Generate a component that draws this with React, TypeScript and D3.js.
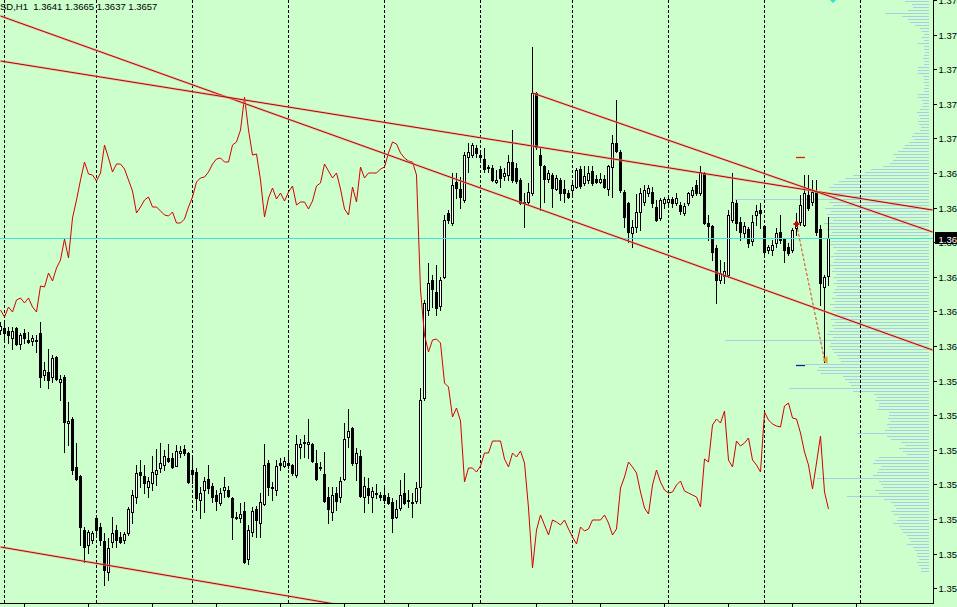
import React from "react";
import * as d3 from "d3";

const W = 957;
const H = 607;
const PLOT_RIGHT = 933;
const PLOT_BOTTOM = 603;

const headerText = "SD,H1  1.3641 1.3665 1.3637 1.3657";

const opens = [
  1.3585, 1.3586, 1.35845, 1.3581, 1.3586, 1.3578, 1.35835, 1.358, 1.35795, 1.358,
  1.35835, 1.35625, 1.3564, 1.35615, 1.35715, 1.3559, 1.35615, 1.35385, 1.35405, 1.35165,
  1.3512, 1.3485, 1.34775, 1.348, 1.3491, 1.34865, 1.34795, 1.3464, 1.3479, 1.3485,
  1.34815, 1.348, 1.34835, 1.3494, 1.35015, 1.3514, 1.3512, 1.35065, 1.35085, 1.3513,
  1.3516, 1.35175, 1.3521, 1.3521, 1.3517, 1.35235, 1.35255, 1.35235, 1.3515, 1.3514,
  1.35, 1.3505, 1.35105, 1.3507, 1.35025, 1.34985, 1.3505, 1.3505, 1.3501, 1.34915,
  1.3491, 1.34945, 1.34705, 1.3484, 1.34955, 1.34885, 1.3498, 1.35185, 1.35065, 1.3505,
  1.35185, 1.3517, 1.35185, 1.35175, 1.35125, 1.35265, 1.35285, 1.3528, 1.3528, 1.35185,
  1.35165, 1.3513, 1.35015, 1.3494, 1.35035, 1.35015, 1.35105, 1.35315, 1.3536, 1.35185,
  1.3522, 1.35015, 1.3506, 1.35015, 1.35035, 1.35025, 1.35025, 1.35015, 1.3499, 1.34915,
  1.3496, 1.35035, 1.35, 1.34985, 1.34995, 1.35065, 1.3551, 1.3595, 1.361, 1.3604,
  1.3597, 1.36115, 1.36435, 1.36385, 1.3659, 1.36555, 1.365, 1.36715, 1.36725, 1.3676,
  1.36725, 1.36705, 1.36665, 1.3666, 1.3659, 1.36655, 1.3662, 1.36625, 1.3669, 1.3666,
  1.366, 1.3649, 1.3649, 1.36535, 1.37035, 1.36725, 1.3667, 1.36605, 1.36625, 1.36555,
  1.366, 1.36555, 1.36535, 1.3655, 1.36565, 1.36655, 1.36585, 1.366, 1.36645, 1.36605,
  1.3659, 1.36605, 1.36555, 1.36665, 1.36785, 1.3674, 1.3654, 1.36485, 1.36335, 1.36365,
  1.3644, 1.3649, 1.36535, 1.3654, 1.36465, 1.3641, 1.36485, 1.3649, 1.36505, 1.36485,
  1.36475, 1.36435, 1.36485, 1.36525, 1.36575, 1.36535, 1.36635, 1.36385, 1.3637, 1.3626,
  1.361, 1.3612, 1.36125, 1.364, 1.36485, 1.3639, 1.36335, 1.36355, 1.36295, 1.36425,
  1.3645, 1.3637, 1.3625, 1.3625, 1.36285, 1.3634, 1.36305, 1.36265, 1.3625, 1.3636,
  1.3639, 1.36375, 1.36525, 1.3649, 1.3654, 1.36355, 1.36065, 1.3612
];

const highs = [
  1.3589, 1.35885, 1.35865, 1.35865, 1.35865, 1.35835, 1.35855, 1.3584, 1.35825, 1.35825,
  1.3589, 1.3569, 1.35755, 1.35725, 1.3572, 1.35625, 1.35625, 1.3549, 1.35415, 1.35285,
  1.35125, 1.34865, 1.3485, 1.34845, 1.34915, 1.34885, 1.34835, 1.3481, 1.34915, 1.34875,
  1.3484, 1.3484, 1.34965, 1.3505, 1.35175, 1.352, 1.35175, 1.35115, 1.3522, 1.35255,
  1.35285, 1.3525, 1.3528, 1.35235, 1.35275, 1.3527, 1.35275, 1.3524, 1.35215, 1.3516,
  1.35065, 1.35115, 1.35175, 1.35085, 1.3505, 1.3506, 1.35115, 1.3507, 1.35015, 1.3494,
  1.34985, 1.3499, 1.34875, 1.34965, 1.3497, 1.35035, 1.3528, 1.352, 1.3509, 1.352,
  1.3521, 1.35215, 1.35235, 1.3518, 1.35325, 1.35305, 1.35325, 1.35405, 1.35285, 1.3525,
  1.3519, 1.3524, 1.35065, 1.35065, 1.35065, 1.35115, 1.35385, 1.35455, 1.35365, 1.3526,
  1.3525, 1.35115, 1.3511, 1.35065, 1.3508, 1.3504, 1.3506, 1.35035, 1.3501, 1.35,
  1.351, 1.35135, 1.3505, 1.35035, 1.3509, 1.3556, 1.36, 1.36185, 1.36125, 1.36175,
  1.36115, 1.36425, 1.3645, 1.36635, 1.36635, 1.36615, 1.3674, 1.36785, 1.36785, 1.36775,
  1.3674, 1.3676, 1.36675, 1.36675, 1.3665, 1.3667, 1.3666, 1.36725, 1.3685, 1.36685,
  1.3661, 1.36535, 1.36585, 1.37265, 1.3704, 1.3676, 1.36675, 1.3665, 1.36635, 1.36625,
  1.3661, 1.366, 1.3655, 1.366, 1.3666, 1.3667, 1.3667, 1.3667, 1.3667, 1.36625,
  1.36635, 1.36625, 1.36675, 1.36825, 1.37, 1.3675, 1.3655, 1.3649, 1.364, 1.3653,
  1.3656, 1.36575, 1.36575, 1.36565, 1.365, 1.3651, 1.36515, 1.3652, 1.36515, 1.36535,
  1.3649, 1.36485, 1.3654, 1.36565, 1.366, 1.3667, 1.3664, 1.36425, 1.36375, 1.36275,
  1.362, 1.3619, 1.3645, 1.36635, 1.365, 1.36415, 1.3639, 1.36365, 1.36425, 1.36475,
  1.36485, 1.36375, 1.36275, 1.363, 1.3636, 1.36425, 1.3631, 1.36285, 1.3636, 1.36435,
  1.36525, 1.36625, 1.36625, 1.366, 1.366, 1.36375, 1.36125, 1.36415
];

const lows = [
  1.3583, 1.358, 1.35785, 1.35755, 1.35775, 1.35755, 1.35785, 1.35785, 1.35775, 1.3574,
  1.35565, 1.356, 1.3556, 1.3559, 1.356, 1.355, 1.3524, 1.35275, 1.3513, 1.351,
  1.34775, 1.3469, 1.34735, 1.34785, 1.34815, 1.34775, 1.34575, 1.346, 1.34765, 1.34765,
  1.34785, 1.34785, 1.34825, 1.34885, 1.34985, 1.35065, 1.35035, 1.35015, 1.3505, 1.35075,
  1.3514, 1.3515, 1.3519, 1.3516, 1.3517, 1.35215, 1.35225, 1.35085, 1.35085, 1.3495,
  1.3491, 1.3494, 1.35035, 1.3499, 1.3495, 1.34975, 1.35015, 1.35015, 1.34805, 1.34905,
  1.3489, 1.34685, 1.3468, 1.3482, 1.34815, 1.34815, 1.34975, 1.35025, 1.35, 1.35025,
  1.3515, 1.35165, 1.3516, 1.35125, 1.35115, 1.3521, 1.35215, 1.3521, 1.3519, 1.351,
  1.3515, 1.3499, 1.34885, 1.349, 1.3495, 1.3499, 1.351, 1.35265, 1.35175, 1.351,
  1.35015, 1.3494, 1.34985, 1.3494, 1.3501, 1.35, 1.34985, 1.3498, 1.3484, 1.3491,
  1.3495, 1.3498, 1.34965, 1.34915, 1.34985, 1.34985, 1.355, 1.35925, 1.35965, 1.35925,
  1.3595, 1.3611, 1.36385, 1.36375, 1.3651, 1.3646, 1.3649, 1.3664, 1.36715, 1.36715,
  1.367, 1.3664, 1.3664, 1.36595, 1.36585, 1.36565, 1.366, 1.366, 1.3659, 1.36585,
  1.3648, 1.36365, 1.3648, 1.36525, 1.36755, 1.3645, 1.3649, 1.3659, 1.36465, 1.3655,
  1.365, 1.3649, 1.3651, 1.36525, 1.3656, 1.3656, 1.36575, 1.36585, 1.36575, 1.36585,
  1.36585, 1.3656, 1.36525, 1.36515, 1.3674, 1.3654, 1.36365, 1.3629, 1.36265, 1.3634,
  1.3635, 1.36475, 1.3652, 1.36465, 1.36395, 1.364, 1.3646, 1.36465, 1.36465, 1.36475,
  1.3643, 1.36425, 1.36475, 1.36515, 1.36525, 1.36525, 1.3638, 1.363, 1.362, 1.35985,
  1.36085, 1.36085, 1.36115, 1.3639, 1.3635, 1.363, 1.36315, 1.36265, 1.36275, 1.36375,
  1.3636, 1.36215, 1.36235, 1.36225, 1.36265, 1.36285, 1.3619, 1.36225, 1.3624, 1.36325,
  1.36375, 1.3637, 1.3645, 1.36475, 1.36325, 1.35975, 1.3569, 1.36075
];

const closes = [
  1.3587, 1.35835, 1.35825, 1.35845, 1.3578, 1.35825, 1.3581, 1.3579, 1.3581, 1.35795,
  1.35615, 1.3565, 1.356, 1.3571, 1.35605, 1.35605, 1.3539, 1.35395, 1.3515, 1.35105,
  1.34865, 1.34765, 1.3484, 1.34835, 1.3485, 1.348, 1.3465, 1.3476, 1.34835, 1.348,
  1.3479, 1.3483, 1.34955, 1.35025, 1.35135, 1.35125, 1.35085, 1.35095, 1.3514, 1.3515,
  1.35185, 1.3522, 1.35195, 1.35165, 1.35245, 1.35245, 1.35235, 1.3509, 1.3513, 1.3501,
  1.35035, 1.35095, 1.3506, 1.35015, 1.34995, 1.35035, 1.35065, 1.3502, 1.34915, 1.3491,
  1.3493, 1.3469, 1.3485, 1.34945, 1.349, 1.3499, 1.35175, 1.35065, 1.3506, 1.3517,
  1.35175, 1.35195, 1.35175, 1.35135, 1.3528, 1.3528, 1.3529, 1.3529, 1.35195, 1.35105,
  1.3516, 1.34995, 1.34955, 1.35025, 1.34995, 1.35095, 1.35305, 1.35345, 1.35185, 1.35235,
  1.3502, 1.3507, 1.35025, 1.35045, 1.3503, 1.35015, 1.35, 1.34985, 1.3491, 1.34955,
  1.35025, 1.34985, 1.34995, 1.3499, 1.3506, 1.355, 1.35985, 1.36085, 1.36055, 1.3596,
  1.361, 1.364, 1.364, 1.36575, 1.3656, 1.36515, 1.36725, 1.3674, 1.36775, 1.36735,
  1.36715, 1.36655, 1.3666, 1.366, 1.366, 1.3661, 1.36635, 1.3669, 1.366, 1.36595,
  1.36485, 1.36485, 1.3654, 1.37035, 1.36765, 1.36675, 1.36605, 1.36635, 1.3656, 1.3661,
  1.36535, 1.36535, 1.36515, 1.36575, 1.3665, 1.3657, 1.3662, 1.36635, 1.36585, 1.3659,
  1.36605, 1.36565, 1.3667, 1.36785, 1.36745, 1.3655, 1.36415, 1.3634, 1.36365, 1.3644,
  1.36535, 1.3655, 1.3656, 1.36485, 1.364, 1.365, 1.36505, 1.36505, 1.36485, 1.3651,
  1.36445, 1.3647, 1.36535, 1.3655, 1.36535, 1.3664, 1.36385, 1.3637, 1.3624, 1.361,
  1.36135, 1.36145, 1.36425, 1.3649, 1.36385, 1.3634, 1.3637, 1.36285, 1.3639, 1.36445,
  1.36435, 1.3624, 1.36265, 1.36275, 1.36335, 1.363, 1.3625, 1.36235, 1.3635, 1.3639,
  1.36475, 1.36535, 1.3646, 1.3654, 1.3634, 1.36085, 1.36115, 1.3631
];

const overlay = [
  1.3595, 1.35915, 1.35965, 1.3594, 1.36, 1.3601, 1.35985, 1.3601, 1.35965, 1.3594,
  1.3607, 1.36065, 1.36135, 1.36095, 1.3616, 1.362, 1.36305, 1.3621, 1.3641, 1.365,
  1.366, 1.3669, 1.3663, 1.36625, 1.36595, 1.36635, 1.36775, 1.3671, 1.3664, 1.3668,
  1.3668, 1.36655, 1.366, 1.36545, 1.36435, 1.36465, 1.365, 1.36515, 1.36465, 1.36465,
  1.36445, 1.36425, 1.3642, 1.3644, 1.36385, 1.36385, 1.36405, 1.36465, 1.36515, 1.3659,
  1.3661, 1.36615, 1.3664, 1.3668, 1.36705, 1.3671, 1.3669, 1.3669, 1.36775, 1.3679,
  1.3685, 1.37015, 1.3685, 1.36725, 1.3673, 1.366, 1.36415, 1.3651, 1.3656, 1.36505,
  1.36535, 1.36495, 1.3654, 1.3657, 1.36475, 1.3649, 1.3649, 1.36455, 1.36495, 1.3657,
  1.36585, 1.3668, 1.36645, 1.3661, 1.36635, 1.36555, 1.36455, 1.36425, 1.36565, 1.3649,
  1.36665, 1.3661, 1.36635, 1.36635, 1.36635, 1.36655, 1.36665, 1.36735, 1.3679, 1.3678,
  1.36735, 1.3671, 1.36695, 1.3669, 1.36625, 1.3605, 1.35825, 1.3574, 1.358, 1.35805,
  1.35785, 1.35585, 1.35565, 1.35415, 1.3546, 1.35395, 1.3509, 1.3516, 1.3516, 1.3514,
  1.3517, 1.35235, 1.35235, 1.35295, 1.35295, 1.35295, 1.35205, 1.35165, 1.35235, 1.35215,
  1.35245, 1.35185, 1.3496, 1.3466, 1.3485, 1.34925, 1.34875, 1.34825, 1.349, 1.3489,
  1.34875, 1.349, 1.34855, 1.34815, 1.3478, 1.34865, 1.34845, 1.34855, 1.349, 1.349,
  1.349, 1.34925, 1.34885, 1.34825, 1.34855, 1.3506, 1.35115, 1.3519, 1.35165, 1.35135,
  1.3504, 1.3496, 1.3493, 1.35075, 1.3515, 1.3509, 1.3505, 1.35035, 1.3504, 1.35075,
  1.35095, 1.35045, 1.35035, 1.35025, 1.35015, 1.34965, 1.35205, 1.3519, 1.35375, 1.35405,
  1.35385, 1.35445, 1.352, 1.35165, 1.35295, 1.3527, 1.35285, 1.3531, 1.352, 1.35175,
  1.3514, 1.3544, 1.354, 1.3538, 1.3537, 1.35365, 1.3547, 1.35485, 1.3541, 1.35405,
  1.35335, 1.3524, 1.35175, 1.35055, 1.35185, 1.3532, 1.3504, 1.34955
];

// volume profile (per price bin, top to bottom)
const profileTopPrice = 1.37495;
const profileBinSize = 0.00015;
const profileVolumes = [
  24, 17, 16, 21, 44, 27, 21, 19, 14, 9,
  7, 5, 7, 5, 11, 5, 5, 4, 5, 6,
  5, 5, 11, 11, 11, 6, 5, 5, 4, 5,
  5, 11, 11, 7, 6, 7, 9, 12, 10, 9,
  11, 10, 8, 9, 15, 17, 15, 20, 24, 26,
  31, 36, 33, 36, 39, 46, 58, 64, 76, 84,
  90, 95, 100, 98, 102, 97, 194, 100, 96, 104,
  98, 102, 100, 96, 105, 99, 102, 97, 100, 94,
  98, 102, 96, 92, 95, 98, 94, 96, 99, 95,
  97, 93, 96, 92, 95, 92, 94, 96, 93, 97,
  94, 99, 95, 97, 92, 95, 98, 94, 97, 95,
  100, 102, 96, 204, 98, 100, 97, 95, 92, 90,
  88, 124, 110, 112, 108, 86, 84, 80, 78, 140,
  76, 55, 52, 54, 50, 50, 52, 40, 40, 41,
  39, 42, 40, 44, 72, 42, 38, 28, 24, 30,
  26, 22, 50, 54, 56, 48, 50, 52, 56, 112,
  50, 48, 46, 54, 50, 82, 45, 38, 35, 33,
  38, 35, 30, 32, 36, 30, 28, 26, 22, 20,
  18, 22, 16, 14, 12, 12, 10, 12, 10, 8, 8
];

const separatorBars = [1, 24, 48, 72, 96, 120, 143, 167, 191, 215];
const timeTickBars = [6, 22, 38, 54, 70, 86, 102, 118, 134, 150, 166, 182, 198, 214];

const priceTicks = [
  1.375, 1.37327, 1.37154, 1.36981, 1.36808, 1.36635, 1.36462, 1.36289, 1.36116,
  1.35943, 1.3577, 1.35597, 1.35424, 1.35251, 1.35078, 1.34905, 1.34732, 1.34559
];
const priceTickLabels = [
  "1.37", "1.37", "1.37", "1.37", "1.37", "1.36", "1.36", "1.36", "1.36",
  "1.36", "1.36", "1.35", "1.35", "1.35", "1.35", "1.35", "1.35", "1.35"
];

// trend lines: [bar, price] pairs
const trendA = [[0, 1.3742], [233, 1.3575]];
const trendB = [[0, 1.37195], [233, 1.3645]];
const trendC = [[133, 1.37035], [233, 1.3634]];
const trendE = [[0, 1.34765], [90, 1.34458]];
const trendLines = [trendA, trendB, trendC, trendE];

// order marks
const orderLine = [[199, 1.3638], [206, 1.357]];
const tpLevel = 1.36715;
const slLevel = 1.35675;
const markBars = [199, 201];
const bidPrice = 1.3631;
const bidLabel = "1.36";

const FONT = "'Liberation Sans', Arial, sans-serif";

export default function App() {
  const x = d3.scaleLinear().domain([0, 233]).range([0.5, 932.5]);
  const y = d3.scaleLinear().domain([1.375, 1.345]).range([0, 600]);
  const vx = d3.scaleLinear().domain([0, 100]).range([0, 100]);
  const ry = (p: number) => Math.round(y(p));

  const overlayPath = d3
    .line<number>()
    .x((_, i) => x(i))
    .y((d) => y(d))(overlay) as string;

  const bidY = ry(bidPrice) + 0.5;

  return (
    <svg
      width={W}
      height={H}
      style={{ position: "fixed", left: 0, top: 0, display: "block" }}
      xmlns="http://www.w3.org/2000/svg"
    >
      <defs>
        <clipPath id="plot">
          <rect x={0} y={0} width={PLOT_RIGHT} height={PLOT_BOTTOM} />
        </clipPath>
      </defs>
      <rect x={0} y={0} width={W} height={H} fill="#ccffcc" />

      <g clipPath="url(#plot)">
        {profileVolumes.map((v, i) => {
          const yy = ry(profileTopPrice - i * profileBinSize) + 0.5;
          return (
            <line
              key={"pv" + i}
              x1={929 - vx(v)}
              x2={929}
              y1={yy}
              y2={yy}
              stroke="#a9cde2"
              strokeWidth={1}
            />
          );
        })}

        {separatorBars.map((b) => (
          <line
            key={"sep" + b}
            x1={x(b)}
            x2={x(b)}
            y1={0}
            y2={PLOT_BOTTOM}
            stroke="#000"
            strokeWidth={1}
            strokeDasharray="3,2"
          />
        ))}

        {opens.map((o, i) => {
          const c = closes[i];
          const hi = highs[i];
          const lo = lows[i];
          const cx = x(i);
          const top = ry(Math.max(o, c));
          const bot = ry(Math.min(o, c));
          const bull = c > o;
          return (
            <g key={"c" + i}>
              <rect x={cx - 0.5} y={ry(hi)} width={1} height={ry(lo) - ry(hi) + 1} fill="#000" />
              <rect x={cx - 1.5} y={top} width={3} height={bot - top + 1} fill="#000" />
              {bull && bot - top > 1 ? (
                <rect x={cx - 0.5} y={top + 1} width={1} height={bot - top - 1} fill="#fff" />
              ) : null}
            </g>
          );
        })}

        <line x1={0} x2={PLOT_RIGHT} y1={bidY} y2={bidY} stroke="#40e0d8" strokeWidth={1} />

        <path d={overlayPath} fill="none" stroke="#d40000" strokeWidth={1} />

        {trendLines.map((t, i) => (
          <g key={"t" + i}>
            <line
              x1={x(t[0][0])}
              y1={y(t[0][1])}
              x2={x(t[1][0])}
              y2={y(t[1][1])}
              stroke="#f5a090"
              strokeOpacity={0.6}
              strokeWidth={2.6}
            />
            <line
              x1={x(t[0][0])}
              y1={y(t[0][1])}
              x2={x(t[1][0])}
              y2={y(t[1][1])}
              stroke="#b00000"
              strokeWidth={1}
            />
          </g>
        ))}

        <line
          x1={x(orderLine[0][0])}
          y1={y(orderLine[0][1])}
          x2={x(orderLine[1][0])}
          y2={y(orderLine[1][1])}
          stroke="#e03818"
          strokeWidth={1}
          strokeDasharray="3,2"
        />
        <path
          d={`M${x(orderLine[0][0]) - 3},${y(orderLine[0][1])} h6 M${x(orderLine[0][0])},${y(orderLine[0][1]) - 3} v6`}
          stroke="#e00000"
          strokeWidth={2}
        />
        <polygon
          points={`${x(orderLine[1][0]) - 2},${y(orderLine[1][1])} ${x(orderLine[1][0]) + 3},${y(orderLine[1][1]) - 4} ${x(orderLine[1][0]) + 3},${y(orderLine[1][1]) + 4}`}
          fill="#e0a020"
        />
        <line
          x1={x(markBars[0]) - 0.5}
          x2={x(markBars[1]) + 0.5}
          y1={ry(tpLevel) + 0.5}
          y2={ry(tpLevel) + 0.5}
          stroke="#e02000"
          strokeWidth={1.3}
        />
        <line
          x1={x(markBars[0]) - 0.5}
          x2={x(markBars[1]) + 0.5}
          y1={ry(slLevel) + 0.5}
          y2={ry(slLevel) + 0.5}
          stroke="#1020a0"
          strokeWidth={1.3}
        />
        <polygon points="829,-1 833,-5 837,-1 833,3" fill="#30e0e0" />
      </g>

      <line x1={PLOT_RIGHT + 0.5} x2={PLOT_RIGHT + 0.5} y1={0} y2={PLOT_BOTTOM + 1} stroke="#000" />
      <line x1={0} x2={PLOT_RIGHT + 1} y1={PLOT_BOTTOM + 0.5} y2={PLOT_BOTTOM + 0.5} stroke="#000" />
      {timeTickBars.map((b) => (
        <line key={"tt" + b} x1={x(b)} x2={x(b)} y1={PLOT_BOTTOM} y2={H} stroke="#000" />
      ))}
      {priceTicks.map((p, i) => {
        const yy = ry(p) + 0.5;
        return (
          <g key={"pt" + i}>
            <line x1={PLOT_RIGHT} x2={PLOT_RIGHT + 4} y1={yy} y2={yy} stroke="#000" />
            <text
              x={PLOT_RIGHT + 5.5}
              y={yy + 3.5}
              fontFamily={FONT}
              fontSize={9.5}
              fill="#000"
            >
              {priceTickLabels[i]}
            </text>
          </g>
        );
      })}
      <rect x={PLOT_RIGHT + 2} y={bidY - 6.5} width={W - PLOT_RIGHT - 2} height={12} fill="#000" />
      <text x={PLOT_RIGHT + 5.5} y={bidY + 4} fontFamily={FONT} fontSize={9.5} fill="#fff">
        {bidLabel}
      </text>

      <text x={0} y={10} fontFamily={FONT} fontSize={9.5} fill="#000" style={{ whiteSpace: "pre" }}>
        {headerText}
      </text>
    </svg>
  );
}
